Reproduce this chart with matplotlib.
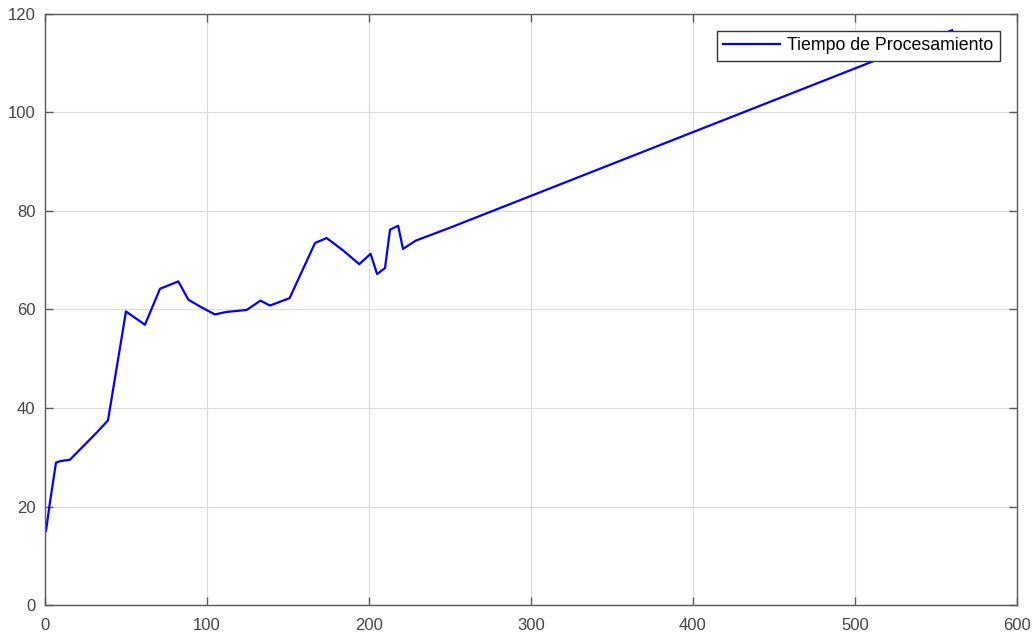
import matplotlib
matplotlib.use("Agg")
import matplotlib.pyplot as plt

plt.rcParams["font.family"] = ["Liberation Sans", "DejaVu Sans"]

# tiempo de procesamiento medido para cada tamano
tamano = [0.6, 3, 6.8, 9.3, 15.4, 31.9, 38.9, 50, 61.7, 71, 82.3, 88.5, 95.7,
          104.9, 112, 124.5, 133, 138.9, 151, 166.7, 173.9, 184, 194, 201,
          205, 209.9, 213, 218, 221, 229, 250, 560]
tiempo = [15.0, 20.7, 28.9, 29.2, 29.5, 35.0, 37.5, 59.6, 56.9, 64.2, 65.7,
          62.0, 60.6, 59.0, 59.5, 59.9, 61.8, 60.8, 62.3, 73.5, 74.5, 72.0,
          69.2, 71.3, 67.2, 68.4, 76.2, 77.0, 72.3, 74.0, 76.6, 116.7]

gris = "#595959"

fig = plt.figure(figsize=(10.34, 6.34), dpi=100)
ax = fig.add_axes([0.0435, 0.0457, 0.9400, 0.9323])

ax.plot(tamano, tiempo, color="#0000ff", linewidth=1.6, label="Tiempo de Procesamiento")

ax.set_xlim(0, 600)
ax.set_ylim(0, 120)
ax.set_xticks(range(0, 601, 100))
ax.set_yticks(range(0, 121, 20))
ax.grid(True, color="#dcdcdc", linewidth=0.8)
ax.set_axisbelow(True)

ax.tick_params(direction="in", length=6, width=1.0, color=gris, labelcolor="#444444",
               labelsize=12, top=True, right=True)
ax.tick_params(axis="x", pad=9)
ax.tick_params(axis="y", pad=7)
for s in ax.spines.values():
    s.set_color(gris)
    s.set_linewidth(1.0)

leg = ax.legend(loc="upper right", bbox_to_anchor=(0.9825, 0.971), fontsize=12.8,
                frameon=True, fancybox=False, handlelength=3.2, borderpad=0.35,
                handletextpad=0.4, borderaxespad=0)
leg.get_frame().set_edgecolor("#333333")
leg.get_frame().set_linewidth(1.0)
leg.get_frame().set_alpha(1)

fig.savefig("out.png", dpi=100)
